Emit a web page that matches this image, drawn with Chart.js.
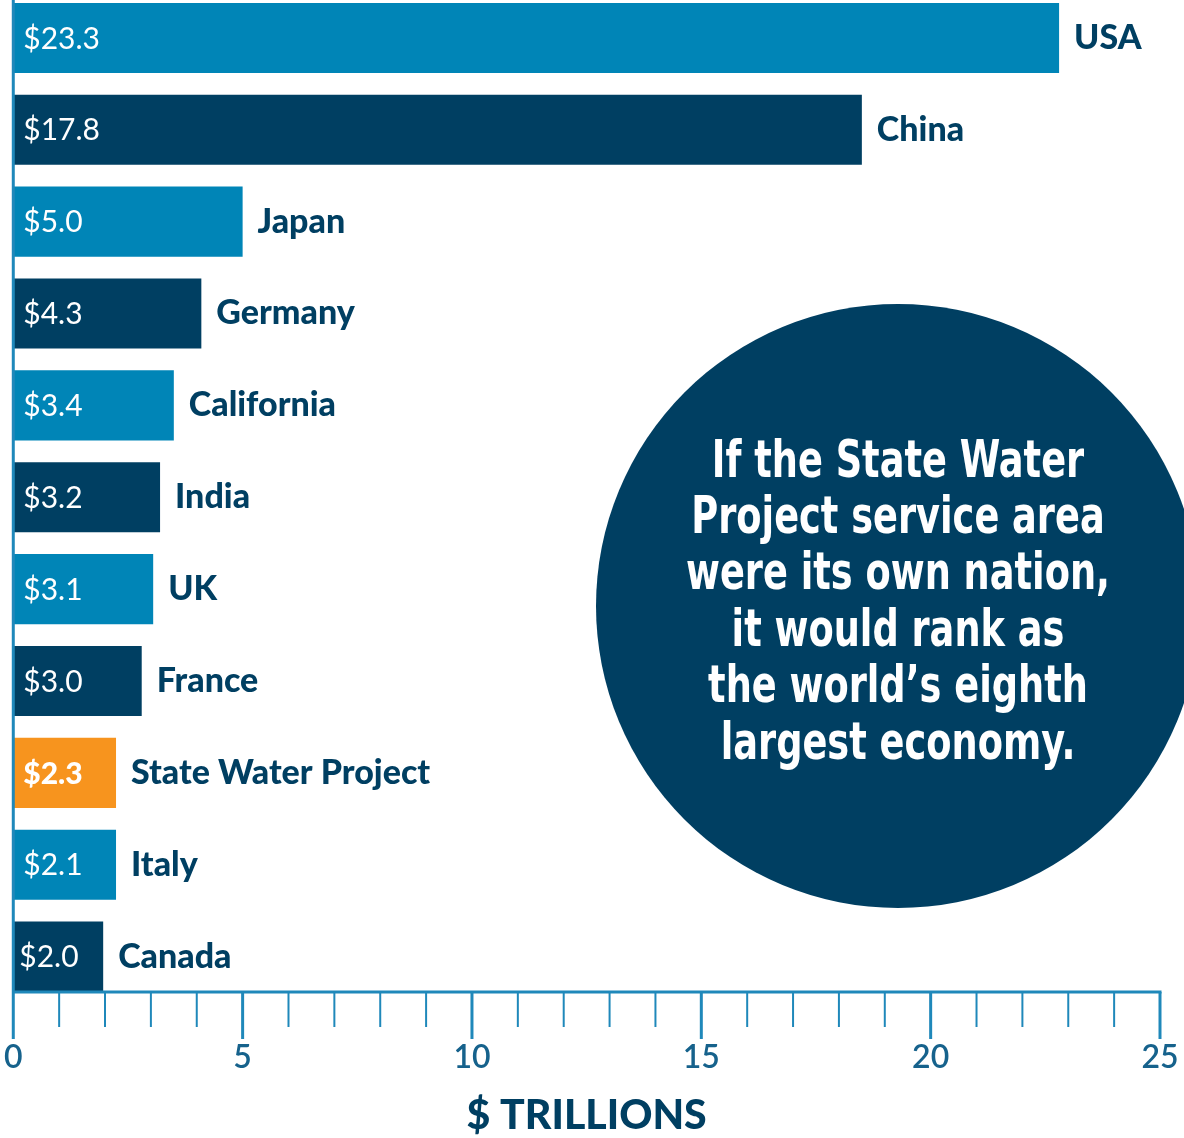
<!DOCTYPE html>
<html>
<head>
<meta charset="utf-8">
<script src="https://cdn.jsdelivr.net/npm/chart.js@4.4.1/dist/chart.umd.min.js"></script>
<style>
  html, body { margin: 0; padding: 0; background: #fff; }
  #wrap { width: 1184px; height: 1138px; position: relative; overflow: hidden; }
  /* the top bar sits flush with the page edge, so the canvas starts a little above it */
  #inner { position: absolute; left: 0; top: -8px; width: 1184px; height: 1146px; }
</style>
</head>
<body>
<div id="wrap"><div id="inner"><canvas id="gdp-chart"></canvas></div></div>
<script>
const countries = ['USA', 'China', 'Japan', 'Germany', 'California', 'India', 'UK', 'France', 'State Water Project', 'Italy', 'Canada'];
// bar lengths as drawn in the picture ($ trillions)
const barValues = [22.8, 18.5, 5.0, 4.1, 3.5, 3.2, 3.05, 2.8, 2.24, 2.24, 1.96];
// the value printed on each bar
const valueLabels = ['$23.3', '$17.8', '$5.0', '$4.3', '$3.4', '$3.2', '$3.1', '$3.0', '$2.3', '$2.1', '$2.0'];
const tickLabels = ['0', '5', '10', '15', '20', '25'];
const calloutLines = [
  'If the State Water',
  'Project service area',
  'were its own nation,',
  'it would rank as',
  'the world\u2019s eighth',
  'largest economy.'
];

const LIGHT = '#0085b7';
const DARK = '#003f62';
const ORANGE = '#f7941e';
const AXIS = '#1f88ba';
const TICK = '#16628c';
const barColors = [LIGHT, DARK, LIGHT, DARK, LIGHT, DARK, LIGHT, DARK, ORANGE, LIGHT, DARK];
const HIGHLIGHT = 8;

// value inside the bar, name after it
const barLabels = {
  id: 'barLabels',
  afterDatasetsDraw(chart) {
    const ctx = chart.ctx;
    const meta = chart.getDatasetMeta(0);
    const x0 = chart.scales.x.getPixelForValue(0);
    ctx.save();
    ctx.textBaseline = 'middle';
    ctx.textAlign = 'left';
    meta.data.forEach((bar, i) => {
      const { x, y } = bar.getProps(['x', 'y'], true);
      ctx.fillStyle = '#fff';
      ctx.font = (i === HIGHLIGHT ? '900 ' : '400 ') + '30px Lato';
      ctx.fillText(valueLabels[i], x0 + (x - x0 < 100 ? 6 : 10), y + 1);
      ctx.fillStyle = DARK;
      ctx.font = '900 34px Lato';
      ctx.fillText(countries[i], x + 15, y);
    });
    ctx.restore();
  }
};

// ruler-style axis: base line, long ticks every 5, short ones every 1
const rulerAxis = {
  id: 'rulerAxis',
  afterDatasetsDraw(chart) {
    const ctx = chart.ctx;
    const xs = chart.scales.x;
    const meta = chart.getDatasetMeta(0);
    const last = meta.data[meta.data.length - 1].getProps(['y', 'height'], true);
    const axisY = Math.round(last.y + last.height / 2);
    const x0 = xs.getPixelForValue(0);
    const x1 = xs.getPixelForValue(25);
    ctx.save();
    ctx.strokeStyle = AXIS;
    ctx.lineCap = 'butt';
    ctx.lineWidth = 3;
    ctx.beginPath();
    ctx.moveTo(x0, 0);
    ctx.lineTo(x0, axisY + 47);
    ctx.moveTo(x0 - 1.5, axisY);
    ctx.lineTo(x1 + 1.5, axisY);
    ctx.stroke();
    for (let v = 1; v <= 25; v++) {
      const px = xs.getPixelForValue(v);
      const major = v % 5 === 0;
      ctx.lineWidth = major ? 3 : 2;
      ctx.beginPath();
      ctx.moveTo(px, axisY);
      ctx.lineTo(px, axisY + (major ? 47 : 35));
      ctx.stroke();
    }
    ctx.restore();
  }
};

const callout = {
  id: 'callout',
  afterDraw(chart) {
    const ctx = chart.ctx;
    const cx = 898, cy = 614, r = 302;
    ctx.save();
    ctx.beginPath();
    ctx.arc(cx, cy, r, 0, Math.PI * 2);
    ctx.fillStyle = DARK;
    ctx.fill();
    ctx.font = '700 52px "Liberation Sans Narrow", "DejaVu Sans Condensed", "Noto Sans", sans-serif';
    const squeeze = 424 / ctx.measureText(calloutLines[2]).width;
    ctx.fillStyle = '#fff';
    ctx.textAlign = 'center';
    ctx.textBaseline = 'middle';
    calloutLines.forEach((line, i) => {
      ctx.save();
      ctx.translate(cx, 471 + i * 56.4);
      ctx.scale(squeeze, 1);
      ctx.fillText(line, 0, 0);
      ctx.restore();
    });
    ctx.restore();
  }
};

new Chart(document.getElementById('gdp-chart'), {
  type: 'bar',
  data: {
    labels: countries,
    datasets: [
      {
        data: barValues,
        backgroundColor: barColors,
        borderWidth: 0,
        categoryPercentage: 1,
        barPercentage: 0.763,
      },
    ],
  },
  options: {
    indexAxis: 'y',
    responsive: true,
    maintainAspectRatio: false,
    animation: false,
    layout: { padding: { left: 13, right: 24, top: 0, bottom: 0 } },
    plugins: {
      legend: { display: false },
      tooltip: { enabled: false },
    },
    scales: {
      x: {
        type: 'linear',
        min: 0,
        max: 25,
        border: { display: false },
        grid: { display: true, drawOnChartArea: false, color: 'rgba(0,0,0,0)', tickColor: 'rgba(0,0,0,0)', tickLength: 32 },
        ticks: {
          stepSize: 1,
          autoSkip: false,
          maxRotation: 0,
          padding: 4,
          color: TICK,
          font: { family: 'Lato', size: 32, weight: '600' },
          callback: (v) => (v % 5 === 0 ? tickLabels[v / 5] : ''),
        },
        title: {
          display: true,
          text: '$ TRILLIONS',
          color: DARK,
          font: { family: 'Lato', size: 41, weight: '900', lineHeight: 1.1 },
          padding: { top: 12, bottom: 0 },
        },
      },
      y: { display: false },
    },
  },
  plugins: [barLabels, rulerAxis, callout],
});
</script>
</body>
</html>
